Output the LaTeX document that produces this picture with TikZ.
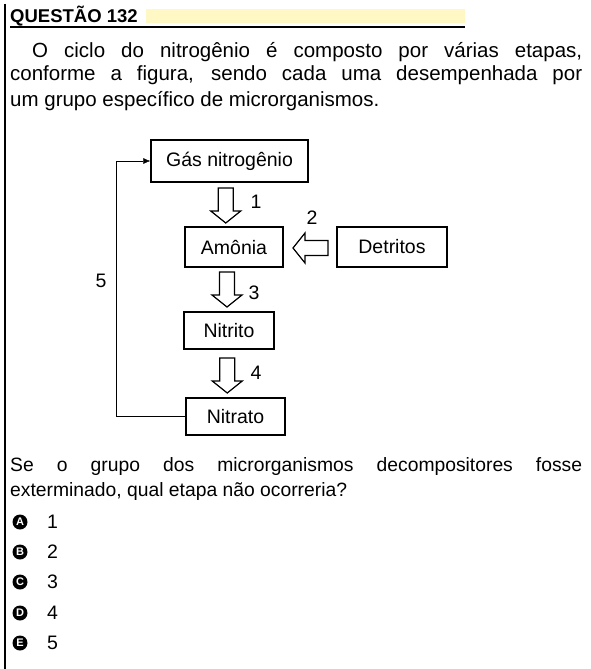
\documentclass[tikz,border=0pt]{standalone}
\usepackage{fontspec}
\setmainfont{Liberation Sans}
\usetikzlibrary{calc,positioning,arrows.meta}
\definecolor{faixa}{RGB}{255,248,196}
\tikzset{
  txt/.style={inner sep=0,anchor=base west,font=\fontsize{20.5}{24}\selectfont},
  txtb/.style={inner sep=0,anchor=base west,font=\fontsize{19.3}{24}\selectfont},
  caixa/.style={draw,line width=1.5pt,inner sep=0,font=\fontsize{19.5}{24}\selectfont},
  rot/.style={inner sep=0,font=\fontsize{19.5}{24}\selectfont},
  letra/.style={circle,fill=black,text=white,inner sep=0,minimum size=15pt,font=\bfseries\fontsize{11}{11}\selectfont},
  vazada/.pic={\draw[line width=1.2pt,fill=white](-7.5,-17.5)--(7.5,-17.5)--(7.5,5.5)--(15,5.5)--(0,17.5)--(-15,5.5)--(-7.5,5.5)--cycle;}
}
\begin{document}
\begin{tikzpicture}[x=1pt,y=-1pt,>={Latex[length=7pt,width=6pt]}]
\useasboundingbox (0,0) rectangle (591,669);
\draw[line width=2pt](4.5,4)--(4.5,669);
\fill[faixa](146,9) rectangle (465,23);
\draw[line width=2pt](10,27)--(465,27);
\node[inner sep=0,anchor=base west,font=\bfseries\fontsize{18.5}{20}\selectfont](titulo) at (10,23){QUESTÃO 132};
\node[txt](l1) at (32,57){\makebox[550pt][s]{O ciclo do nitrogênio é composto por várias etapas,}};
\node[txt](l2) at (10,81){\makebox[572pt][s]{conforme a figura, sendo cada uma desempenhada por}};
\node[txt](l3) at (10,106){um grupo específico de microrganismos.};
\node[caixa,minimum width=157,minimum height=42](gas) at (229.5,161){Gás nitrogênio};
\node[caixa,minimum width=98,minimum height=40](amonia) at (234,247){Amônia};
\node[caixa,minimum width=110,minimum height=40](detritos) at (392,247){Detritos};
\node[caixa,minimum width=90,minimum height=37](nitrito) at (229,330.5){Nitrito};
\node[caixa,minimum width=99,minimum height=37](nitrato) at (235.5,416.5){Nitrato};
\pic at ($(gas.south)!.5!(amonia.north)+(-6,1)$) {vazada};
\pic[rotate=-90] at ($(amonia.east)!.5!(detritos.west)+(0.5,1)$) {vazada};
\pic at ($(amonia.south)!.5!(nitrito.north)+(-4.5,0)$) {vazada};
\pic at ($(nitrito.south)!.5!(nitrato.north)+(-5,2)$) {vazada};
\draw[->](nitrato.west)--++(-69,0)|-(gas.west);
\node[rot](e1) at (256,202){1};
\node[rot](e2) at (312,218){2};
\node[rot](e3) at (254,293){3};
\node[rot](e4) at (256,373){4};
\node[rot](e5) at (101,281){5};
\node[txtb](p1) at (10,471){\makebox[572pt][s]{Se o grupo dos microrganismos decompositores fosse}};
\node[txtb](p2) at (10,496){exterminado, qual etapa não ocorreria?};
\foreach \l/\n/\y in {A/1/522,B/2/552,C/3/582,D/4/613,E/5/643}{
  \node[letra](op\l) at (20,\y){\l};
  \node[rot,anchor=west](num\l) at (47,\y){\n};
}
\end{tikzpicture}
\end{document}
